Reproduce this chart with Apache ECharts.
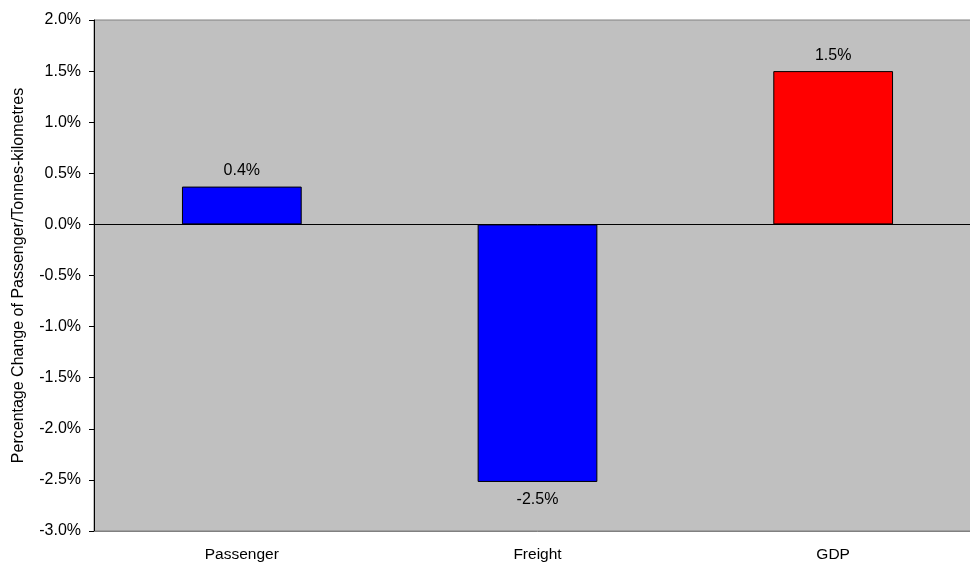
<!DOCTYPE html>
<html>
<head>
<meta charset="utf-8">
<script src="https://cdn.jsdelivr.net/npm/echarts@6/dist/echarts.min.js"></script>
<style>html,body{margin:0;padding:0;background:#fff;overflow:hidden}#c{width:981px;height:563px}</style>
</head>
<body>
<div id="c"></div>
<script>
var categories = ['Passenger', 'Freight', 'GDP'];
var values = [0.37, -2.52, 1.50];
var barColors = ['#0000ff', '#0000ff', '#ff0000'];
var yTicks = { min: -3, max: 2, interval: 0.5 };
var yTitle = 'Percentage Change of Passenger/Tonnes-kilometres';

var chart = echarts.init(document.getElementById('c'), null, { renderer: 'canvas' });
var font = 'Liberation Sans, Arial, sans-serif';
chart.setOption({
  animation: false,
  grid: { left: 94, right: 0, top: 20, bottom: 32, outerBoundsMode: 'none', show: true, backgroundColor: '#c0c0c0', borderColor: '#808080', borderWidth: 1 },
  xAxis: {
    type: 'category',
    data: categories,
    axisLine: { onZero: false, lineStyle: { color: '#808080' } },
    axisTick: { show: false },
    axisLabel: { color: '#000', fontFamily: font, fontSize: 15.5, margin: 16 }
  },
  yAxis: {
    type: 'value',
    min: yTicks.min, max: yTicks.max, interval: yTicks.interval,
    name: yTitle,
    nameLocation: 'middle',
    nameGap: 67,
    nameTextStyle: { color: '#000', fontFamily: font, fontSize: 16 },
    axisLine: { show: true, lineStyle: { color: '#000' } },
    axisTick: { show: true, length: 5, lineStyle: { color: '#000' } },
    splitLine: { show: false },
    axisLabel: { color: '#000', fontFamily: font, fontSize: 16, margin: 13,
      formatter: function (v) { return v.toFixed(1) + '%'; } }
  },
  series: [{
    type: 'bar',
    barWidth: '40.5%',
    data: values.map(function (v, i) {
      return {
        value: v,
        itemStyle: { color: barColors[i], borderColor: '#000', borderWidth: 1 },
        label: { position: v < 0 ? 'bottom' : 'top', distance: v < 0 ? 10 : 8 }
      };
    }),
    label: { show: true, color: '#000', fontFamily: font, fontSize: 16,
      formatter: function (p) { return p.value.toFixed(1) + '%'; } },
    markLine: {
      silent: true, symbol: 'none', label: { show: false },
      lineStyle: { color: '#000', type: 'solid', width: 1 },
      data: [{ yAxis: 0 }]
    }
  }]
});
</script>
</body>
</html>
